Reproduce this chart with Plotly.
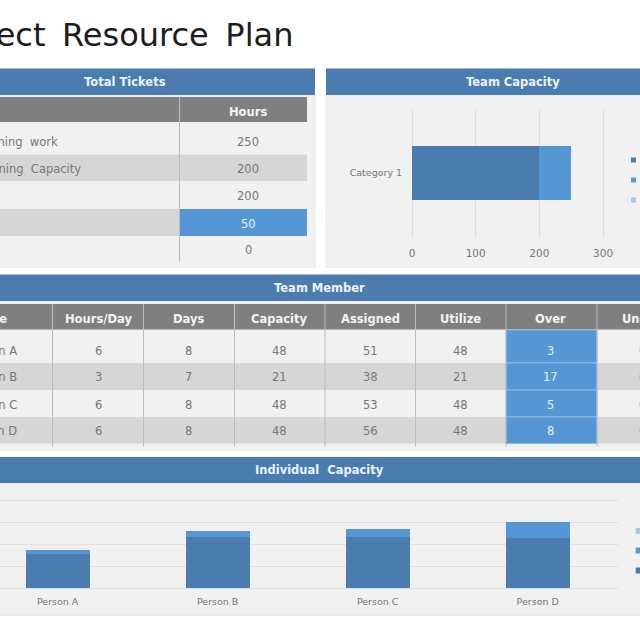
"""Project resource plan dashboard rebuilt with Plotly on a 640x640 canvas."""

import plotly.graph_objects as go

FONT = "DejaVu Sans"
DARK = "#4a7cb0"
MID = "#5596d5"
LIGHT = "#a9c3e3"
HEAD_GREY = "#7f7f7f"
PANEL = "#f1f1f1"
ROW_DARK = "#d6d6d6"
GRID = "#dfdfdf"
DIVIDER = "#bcbcbc"
TEXT = "#767676"

SERIES = ["Utilize", "Over", "Under"]

# Total Tickets table
ticket_labels = ["Planning\u00a0 work", "Planning\u00a0 Capacity", "Utilize", "Over", "Under"]
ticket_hours = [250, 200, 200, 50, 0]

# Team Capacity chart
capacity_category = ["Category 1"]
capacity_utilize = [200]
capacity_over = [50]
capacity_under = [0]

# Team Member table
member_headers = ["Name", "Hours/Day", "Days", "Capacity", "Assigned", "Utilize", "Over", "Under"]
member_names = ["Person A", "Person B", "Person C", "Person D"]
member_hours = [6, 3, 6, 6]
member_days = [8, 7, 8, 8]
member_capacity = [48, 21, 48, 48]
member_assigned = [51, 38, 53, 56]
member_utilize = [48, 21, 48, 48]
member_over = [3, 17, 5, 8]
member_under = [0, 0, 0, 0]

# Individual Capacity chart
person_names = ["Person A", "Person B", "Person C", "Person D"]
person_utilize = [31, 46.5, 46.5, 45.5]
person_over = [4, 5, 7.5, 15]
person_under = [0, 0, 0, 0]


def px_x(x):
    return x / 640


def px_y(y):
    return 1 - y / 640


shapes = []
annotations = []


def rect(x0, y0, x1, y1, color, line=None):
    shapes.append(
        dict(
            type="rect", xref="paper", yref="paper", layer="below",
            x0=px_x(x0), x1=px_x(x1), y0=px_y(y0), y1=px_y(y1),
            fillcolor=color,
            line=dict(color=line or color, width=1 if line else 0),
        )
    )


def vline(x, y0, y1, color=DIVIDER):
    shapes.append(
        dict(
            type="line", xref="paper", yref="paper", layer="below",
            x0=px_x(x), x1=px_x(x), y0=px_y(y0), y1=px_y(y1),
            line=dict(color=color, width=1),
        )
    )


def label(x, y, text, color=TEXT, size=11.5, bold=False, anchor="center"):
    annotations.append(
        dict(
            xref="paper", yref="paper", x=px_x(x), y=px_y(y),
            text=f"<b>{text}</b>" if bold else text,
            showarrow=False, xanchor=anchor, yanchor="middle",
            font=dict(family=FONT, size=size, color=color),
        )
    )


# title runs off the left edge in the reference
label(295, 35, "Project\u00a0\u2009Resource\u00a0\u2009Plan", color="#1c1c1c", size=32, anchor="right")

# panels and their blue headers
rect(-10, 95, 315, 267, PANEL, "#e4e4e4")
rect(326, 95, 650, 267, PANEL, "#e4e4e4")
rect(-10, 301, 650, 451, PANEL)
rect(-10, 483, 650, 615, PANEL, "#dedede")
for x0, y0, x1, y1, title, tx in [
    (-10, 68.5, 315, 95, "Total Tickets", 125),
    (326, 68.5, 650, 95, "Team Capacity", 513),
    (-10, 274.5, 650, 301, "Team Member", 319),
    (-10, 457, 650, 483, "Individual\u00a0 Capacity", 319),
]:
    rect(x0, y0, x1, y1, DARK)
    label(tx, (y0 + y1) / 2, title, color="#eaf4fc", size=11.5, bold=True)

# Total Tickets table
rect(-10, 97, 307, 122, HEAD_GREY)
label(248, 112, "Hours", color="#f4f4f4", size=11.5, bold=True)
ticket_rows = [122, 154.5, 181, 209, 236, 262]
ticket_text_y = [142, 169, 196, 224, 250]
ticket_label_ends = [59.5, 82.5, -30, -30, -30]
for i, hours in enumerate(ticket_hours):
    if i % 2 == 1:
        rect(-10, ticket_rows[i], 307, ticket_rows[i + 1], ROW_DARK)
    if ticket_labels[i] == "Over":
        rect(179.5, ticket_rows[i], 307, ticket_rows[i + 1], MID)
    label(ticket_label_ends[i], ticket_text_y[i], ticket_labels[i], anchor="right")
    label(248, ticket_text_y[i], hours, color="#e8f1fa" if ticket_labels[i] == "Over" else TEXT)
vline(179.5, 97, 262)

# Team Member table
col_edges = [-60, 52.5, 143.5, 234.5, 325, 415.5, 506, 597, 690]
col_centers = [-12, 98, 188, 279, 370, 460, 550, 642]
row_edges = [330, 363, 390, 417, 443.5]
row_text_y = [351, 377, 405, 431]
member_columns = [
    member_hours, member_days, member_capacity, member_assigned,
    member_utilize, member_over, member_under,
]
rect(-10, 304, 650, 329.5, HEAD_GREY)
for center, header in zip(col_centers, member_headers):
    label(center, 318.5, header, color="#f4f4f4", size=11.5, bold=True)
for r, name in enumerate(member_names):
    if r % 2 == 1:
        rect(-10, row_edges[r], 650, row_edges[r + 1], ROW_DARK)
    rect(506, row_edges[r], 597, row_edges[r + 1], MID, "#8fb8e0")
    label(18.5, row_text_y[r], name, anchor="right")
    for c, values in enumerate(member_columns):
        color = "#e8f1fa" if member_headers[c + 1] == "Over" else TEXT
        label(col_centers[c + 1], row_text_y[r], values[r], color=color)
for edge in col_edges[1:-1]:
    vline(edge, 304, 446.5)

# legend swatches sit on the right edge, their names are cut off by the page
for y, color in zip([160, 180, 200], [DARK, MID, LIGHT]):
    rect(631, y - 2.5, 636, y + 2.5, color)
for y, color in zip([531, 550.5, 570.5], [LIGHT, MID, DARK]):
    rect(635.7, y - 3, 642, y + 3, color)

fig = go.Figure()

# horizontal stacked bar
for name, values, color in zip(
    SERIES, [capacity_utilize, capacity_over, capacity_under], [DARK, MID, LIGHT]
):
    fig.add_trace(
        go.Bar(
            y=capacity_category, x=values, name=name, orientation="h",
            marker=dict(color=color, line=dict(width=0)),
            xaxis="x", yaxis="y", showlegend=False,
        )
    )

# column stacked bars
for name, values, color in zip(
    SERIES, [person_utilize, person_over, person_under], [DARK, MID, LIGHT]
):
    fig.add_trace(
        go.Bar(
            x=[0, 1, 2, 3], y=values, name=name,
            marker=dict(color=color, line=dict(width=0)),
            width=0.4, xaxis="x2", yaxis="y2", showlegend=False,
        )
    )

fig.update_layout(
    width=640, height=640,
    # off-page labels must not push the margins in
    margin=dict(l=0, r=0, t=0, b=0, autoexpand=False),
    paper_bgcolor="white", plot_bgcolor="rgba(0,0,0,0)",
    barmode="stack", bargap=0.592,
    font=dict(family=FONT, color=TEXT),
    shapes=shapes, annotations=annotations,
    xaxis=dict(
        # range runs past the last tick so its gridline is not clipped away
        domain=[px_x(412), px_x(605)], range=[0, 303], tickvals=[0, 100, 200, 300],
        anchor="y", showgrid=True, gridcolor=GRID, gridwidth=1,
        zeroline=True, zerolinecolor=GRID, zerolinewidth=1, showline=False,
        ticks="outside", ticklen=5, tickcolor="rgba(0,0,0,0)",
        tickfont=dict(family=FONT, size=10.5, color=TEXT),
    ),
    yaxis=dict(
        domain=[px_y(238), px_y(108)], anchor="x", showgrid=False, zeroline=False,
        ticks="outside", ticklen=7, tickcolor="rgba(0,0,0,0)",
        tickfont=dict(family=FONT, size=9.5, color=TEXT),
    ),
    xaxis2=dict(
        domain=[0, px_x(617.7)], range=[-0.36, 3.5], anchor="y2",
        tickvals=[0, 1, 2, 3], ticktext=person_names,
        showgrid=False, zeroline=False, showline=False,
        ticks="outside", ticklen=4, tickcolor="rgba(0,0,0,0)",
        tickfont=dict(family=FONT, size=9.5, color=TEXT),
    ),
    yaxis2=dict(
        domain=[px_y(588.3), px_y(496.7)], range=[0, 83], dtick=20, anchor="x2",
        showgrid=True, gridcolor=GRID, gridwidth=1,
        zeroline=True, zerolinecolor=GRID, zerolinewidth=1, showticklabels=False,
    ),
)

# the page's default body margin would push the 640px figure off the window
fig.write_html(
    "out.html",
    config={"responsive": False, "displayModeBar": False},
    default_width="640px",
    default_height="640px",
    post_script="document.body.style.margin='0';document.body.style.overflow='hidden';",
)
